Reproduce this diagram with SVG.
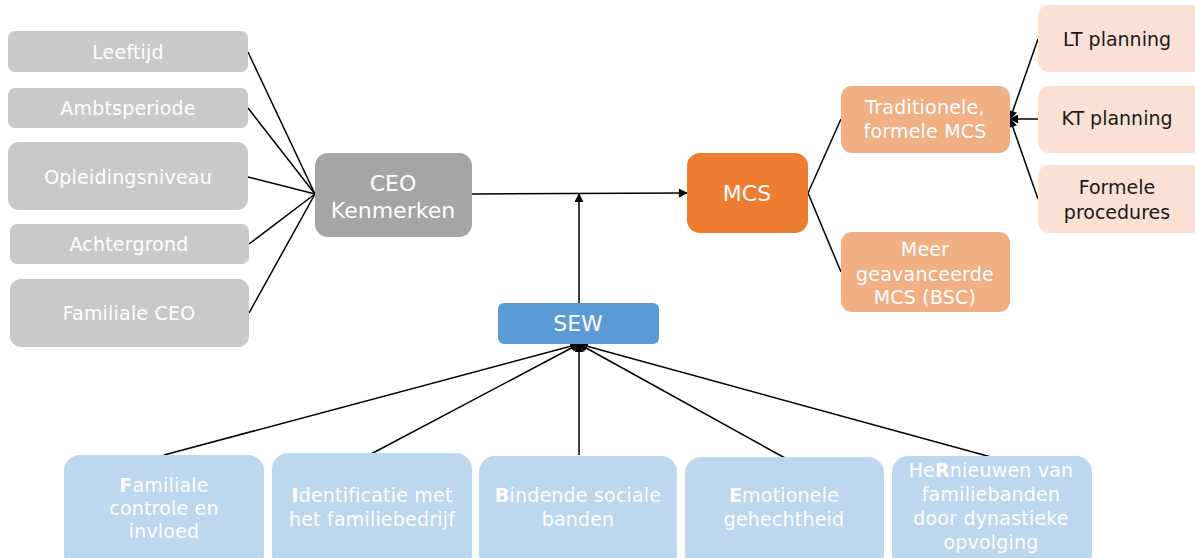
<svg xmlns="http://www.w3.org/2000/svg" width="1195" height="558" viewBox="0 0 1195 558">
<defs>
<style>
text{font-family:"DejaVu Sans","Verdana",sans-serif;text-anchor:middle;}
.t19{font-size:19px;fill:#ffffff;letter-spacing:0.2px;}
.t22{font-size:22px;fill:#ffffff;}
.dk{font-size:19px;fill:#1a1a1a;}
.lg{fill:#c9c9c9;}
.cg{fill:#a5a5a5;}
.or{fill:#ed7d31;}
.lo{fill:#f1b084;}
.po{fill:#fbe1d5;}
.bl{fill:#5b9bd5;}
.lb{fill:#bdd7ee;}
.ln{stroke:#000;stroke-width:1.5;fill:none;}
.ar{stroke:#000;stroke-width:1.5;fill:none;marker-end:url(#ah);}
</style>
<marker id="ah" viewBox="0 0 10 10" refX="9" refY="5" markerWidth="10" markerHeight="9" orient="auto" markerUnits="userSpaceOnUse">
<path d="M0,0 L10,5 L0,10 z" fill="#000"/>
</marker>
</defs>
<rect width="1195" height="558" fill="#ffffff"/>
<g id="connectors">
<line class="ln" x1="248" y1="52" x2="315" y2="194"/>
<line class="ln" x1="248" y1="108" x2="315" y2="194"/>
<line class="ln" x1="248" y1="177" x2="315" y2="194"/>
<line class="ln" x1="249" y1="244" x2="315" y2="194"/>
<line class="ln" x1="249" y1="313" x2="315" y2="194"/>
<line class="ar" x1="472" y1="194" x2="687" y2="193"/>
<line class="ar" x1="579" y1="303" x2="579" y2="194"/>
<line class="ln" x1="808" y1="193" x2="841" y2="119"/>
<line class="ln" x1="808" y1="193" x2="841" y2="272"/>
<line class="ar" x1="1038" y1="39" x2="1010" y2="119"/>
<line class="ar" x1="1038" y1="119" x2="1010" y2="119"/>
<line class="ar" x1="1038" y1="199" x2="1010" y2="119"/>
<line class="ar" x1="164" y1="455" x2="579" y2="344"/>
<line class="ar" x1="371" y1="454" x2="579" y2="344"/>
<line class="ar" x1="579" y1="455" x2="579" y2="344"/>
<line class="ar" x1="785" y1="458" x2="579" y2="344"/>
<line class="ar" x1="991" y1="457" x2="579" y2="344"/>
</g>
<g id="leeftijd"><rect class="lg" x="8" y="31" width="240" height="41" rx="7"/><text class="t19" x="128" y="59">Leeftijd</text></g>
<g id="ambtsperiode"><rect class="lg" x="8" y="88" width="240" height="40" rx="7"/><text class="t19" x="128" y="115">Ambtsperiode</text></g>
<g id="opleidingsniveau"><rect class="lg" x="8" y="142" width="240" height="68" rx="11"/><text class="t19" x="128" y="184">Opleidingsniveau</text></g>
<g id="achtergrond"><rect class="lg" x="10" y="224" width="239" height="40" rx="7"/><text class="t19" x="129" y="251">Achtergrond</text></g>
<g id="familiale-ceo"><rect class="lg" x="10" y="279" width="239" height="68" rx="11"/><text class="t19" x="129" y="320">Familiale CEO</text></g>
<g id="ceo"><rect class="cg" x="315" y="153" width="157" height="84" rx="13"/><text class="t22" x="393" y="191">CEO</text><text class="t22" x="393" y="218">Kenmerken</text></g>
<g id="mcs"><rect class="or" x="687" y="153" width="121" height="80" rx="13"/><text class="t22" x="747" y="201">MCS</text></g>
<g id="traditionele"><rect class="lo" x="841" y="86" width="169" height="67" rx="11"/><text class="t19" x="925" y="114">Traditionele,</text><text class="t19" x="925" y="138">formele MCS</text></g>
<g id="geavanceerde"><rect class="lo" x="841" y="232" width="169" height="80" rx="11"/><text class="t19" x="925" y="256">Meer</text><text class="t19" x="925" y="281">geavanceerde</text><text class="t19" x="925" y="304">MCS (BSC)</text></g>
<g id="lt"><rect class="po" x="1038" y="5" width="170" height="67" rx="11"/><text class="dk" x="1117" y="46">LT planning</text></g>
<g id="kt"><rect class="po" x="1038" y="86" width="170" height="67" rx="11"/><text class="dk" x="1117" y="125">KT planning</text></g>
<g id="formele"><rect class="po" x="1038" y="165" width="170" height="68" rx="11"/><text class="dk" x="1117" y="194">Formele</text><text class="dk" x="1117" y="219">procedures</text></g>
<g id="sew"><rect class="bl" x="498" y="303" width="161" height="41" rx="6"/><text class="t22" x="578" y="331">SEW</text></g>
<g id="f"><rect class="lb" x="64" y="455" width="200" height="115" rx="16"/><text class="t19" x="164" y="492"><tspan font-weight="bold">F</tspan>amiliale</text><text class="t19" x="164" y="515">controle en</text><text class="t19" x="164" y="538">invloed</text></g>
<g id="i"><rect class="lb" x="272" y="453" width="200" height="117" rx="16"/><text class="t19" x="372" y="502"><tspan font-weight="bold">I</tspan>dentificatie met</text><text class="t19" x="372" y="526">het familiebedrijf</text></g>
<g id="b"><rect class="lb" x="479" y="456" width="198" height="114" rx="16"/><text class="t19" x="578" y="502"><tspan font-weight="bold">B</tspan>indende sociale</text><text class="t19" x="578" y="526">banden</text></g>
<g id="e"><rect class="lb" x="685" y="457" width="199" height="113" rx="16"/><text class="t19" x="784" y="502"><tspan font-weight="bold">E</tspan>motionele</text><text class="t19" x="784" y="526">gehechtheid</text></g>
<g id="r"><rect class="lb" x="892" y="456" width="200" height="114" rx="16"/><text class="t19" x="991" y="477">He<tspan font-weight="bold">R</tspan>nieuwen van</text><text class="t19" x="991" y="501">familiebanden</text><text class="t19" x="991" y="525">door dynastieke</text><text class="t19" x="991" y="549">opvolging</text></g>
</svg>
